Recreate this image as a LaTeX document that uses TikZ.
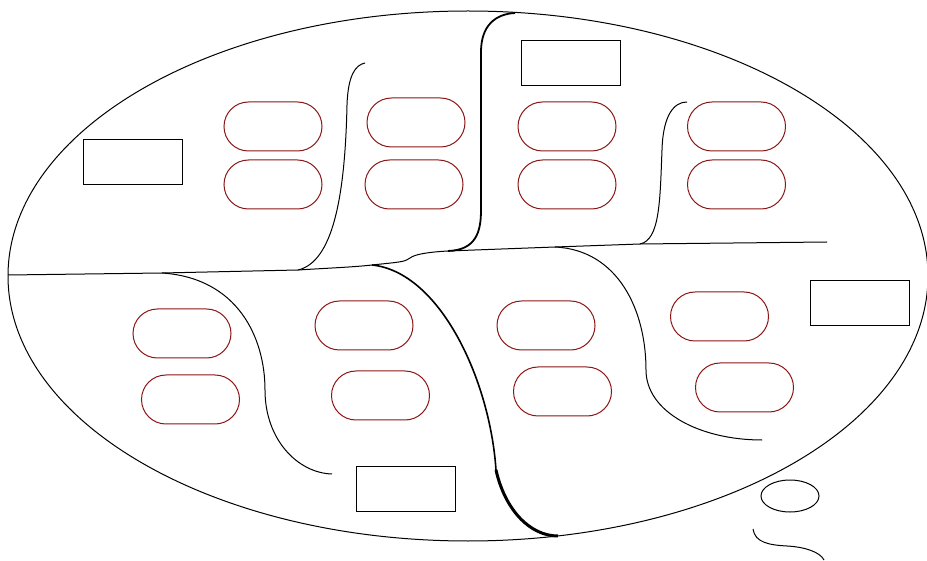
\documentclass[tikz,border=0pt]{standalone}
\usepackage{xcolor}
\usepackage{tikz}
\definecolor{cause}{RGB}{140,22,22}

\begin{document}
\begin{tikzpicture}[
          x=1pt, y=-1pt,
          bone/.style={line width=1pt},
          spine/.style={line width=1.8pt},
          pill/.style={draw=cause, line width=1pt, rounded corners=24.5pt, minimum width=98pt, minimum height=49pt, inner sep=0pt},
          headbox/.style={draw, line width=0.9pt, minimum width=99pt, minimum height=45pt, inner sep=0pt}
        ]
          \useasboundingbox (0,0) rectangle (927,561);

          % bubble
          \draw[bone] (468,276) ellipse [x radius=460, y radius=265];
          \draw[bone] (790,496) ellipse [x radius=29, y radius=16];
          \draw[bone] (753,529) .. controls (755,543) and (770,545) .. (787,546) .. controls (805,547) and (820,552) .. (824,560);

          % category boxes
          \node[headbox] (catA) at (132.5,161.5) {};
          \node[headbox] (catB) at (570.5,62.5) {};
          \node[headbox] (catC) at (859.5,302.5) {};
          \node[headbox] (catD) at (405.5,488.5) {};

          % causes
          \node[pill] (c1a) at (273,126.5) {};
          \node[pill] (c1b) at (273,184.5) {};
          \node[pill] (c2a) at (416,122.5) {};
          \node[pill] (c2b) at (414,184.5) {};
          \node[pill] (c3a) at (567,126.5) {};
          \node[pill] (c3b) at (567,184.5) {};
          \node[pill] (c4a) at (736.5,126.5) {};
          \node[pill] (c4b) at (736.5,184.5) {};
          \node[pill] (c5a) at (182,333.5) {};
          \node[pill] (c5b) at (190.5,399.5) {};
          \node[pill] (c6a) at (364,325.5) {};
          \node[pill] (c6b) at (380.5,395.5) {};
          \node[pill] (c7a) at (546,325.5) {};
          \node[pill] (c7b) at (562.5,391.5) {};
          \node[pill] (c8a) at (719.5,316.5) {};
          \node[pill] (c8b) at (744.5,387.5) {};

          % spine points
          \coordinate (tail) at (8,275);
          \coordinate (j1) at (162,273);
          \coordinate (j2) at (298,270);
          \coordinate (j3) at (372,265);
          \coordinate (j4) at (448,251);
          \coordinate (j5) at (555,247);
          \coordinate (j6) at (640,244);
          \coordinate (head) at (827,242);

          \draw[bone] (tail) -- (j1) -- (j2) .. controls (330,268) and (355,267) .. (j3)
            .. controls (400,262) and (405,262) .. (410,258) .. controls (415,254) and (430,252) .. (j4)
            -- (j5) -- (j6) -- (head);

          % main bones
          \draw[spine] (j4) .. controls (476,250) and (481,232) .. (481,210) -- (481,52)
            .. controls (481,26) and (495,14) .. (515,13);
          \draw[line width=1.6pt] (j3) .. controls (440,272) and (490,380) .. (496,470);
          \draw[line width=3pt] (496,470) .. controls (505,510) and (530,536) .. (558,536);

          % side bones
          \draw[bone] (j2) .. controls (332,262) and (345,200) .. (347,105)
            .. controls (348,76) and (355,65) .. (365,63);
          \draw[bone] (j6) .. controls (660,240) and (660,200) .. (662,150)
            .. controls (663,115) and (674,102) .. (687,102);
          \draw[bone] (j1) .. controls (238,278) and (265,338) .. (265,390)
            .. controls (265,440) and (298,473) .. (332,474);
          \draw[bone] (j5) .. controls (618,250) and (646,310) .. (646,370)
            .. controls (646,412) and (700,440) .. (762,440);
        \end{tikzpicture}
\end{document}
